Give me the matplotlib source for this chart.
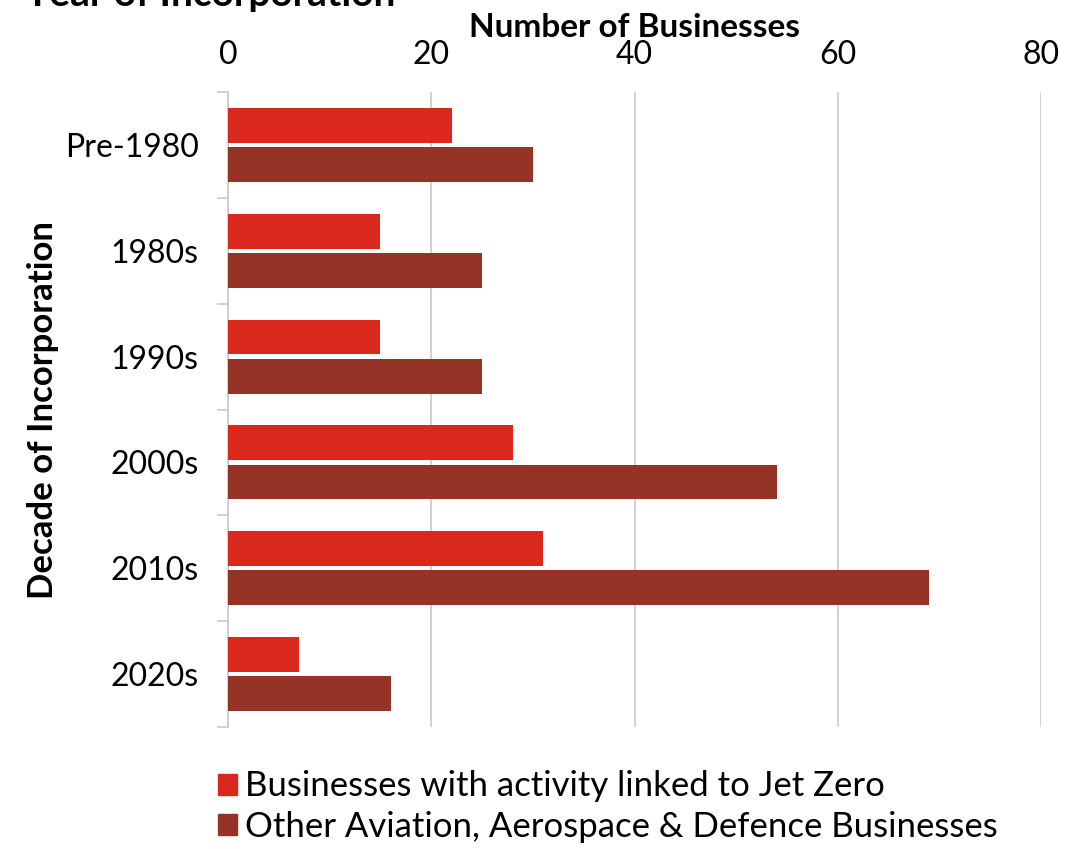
import matplotlib
matplotlib.use("Agg")
import matplotlib.pyplot as plt
import numpy as np
from matplotlib.patches import Patch

categories = ["Pre-1980", "1980s", "1990s", "2000s", "2010s", "2020s"]
jet_zero = [22, 15, 15, 28, 31, 7]
other_aad = [30, 25, 25, 54, 69, 16]
series_names = ["Businesses with activity linked to Jet Zero",
                "Other Aviation, Aerospace & Defence Businesses"]
x_ticks = [0, 20, 40, 60, 80]

RED = "#DA291C"
DARK = "#943326"
GRID = "#C9C9C9"

plt.rcParams['font.family'] = ['Lato', 'DejaVu Sans']

fig = plt.figure(figsize=(10.89, 8.49), dpi=100)
ax = fig.add_axes([0.2094, 0.1437, 0.7466, 0.7479])

y = np.arange(len(categories))
h = 0.33
off = 0.185
ax.barh(y - off, jet_zero, height=h, color=RED, label=series_names[0], zorder=3)
ax.barh(y + off, other_aad, height=h, color=DARK, label=series_names[1], zorder=3)

ax.set_xlim(0, 80)
ax.set_ylim(len(categories) - 0.5, -0.5)
ax.xaxis.tick_top()
ax.xaxis.set_label_position('top')
ax.set_xticks(x_ticks)
ax.set_xticklabels([str(v) for v in x_ticks], fontsize=23)
ax.tick_params(axis='x', length=0, pad=16, colors='black')
ax.grid(axis='x', color=GRID, linewidth=1.2, zorder=0)

ax.set_yticks(y)
ax.set_yticklabels(categories, fontsize=23)
ax.set_yticks(np.arange(-0.5, len(categories), 1), minor=True)
ax.tick_params(axis='y', which='major', length=0, pad=21)
ax.tick_params(axis='y', which='minor', length=8, color=GRID, width=1.2)

for s in ['top', 'right', 'bottom']:
    ax.spines[s].set_visible(False)
ax.spines['left'].set_color(GRID)
ax.spines['left'].set_linewidth(1.2)

ax.set_xlabel("Number of Businesses", fontsize=24, fontweight='bold', labelpad=2)
ax.set_ylabel("Decade of Incorporation", fontsize=25, fontweight='bold', labelpad=4)

fig.legend(handles=[Patch(color=RED), Patch(color=DARK)], labels=series_names,
           loc='lower left', bbox_to_anchor=(0.187, -0.009), frameon=False,
           fontsize=25, handlelength=0.55, handleheight=0.55, handletextpad=0.25,
           labelspacing=0.24, borderaxespad=0.0)

fig.text(0.022, 1 - 6 / 849, "Year of Incorporation", fontsize=28,
         fontweight='bold', va='baseline', ha='left')

fig.savefig("out.png", dpi=100)
